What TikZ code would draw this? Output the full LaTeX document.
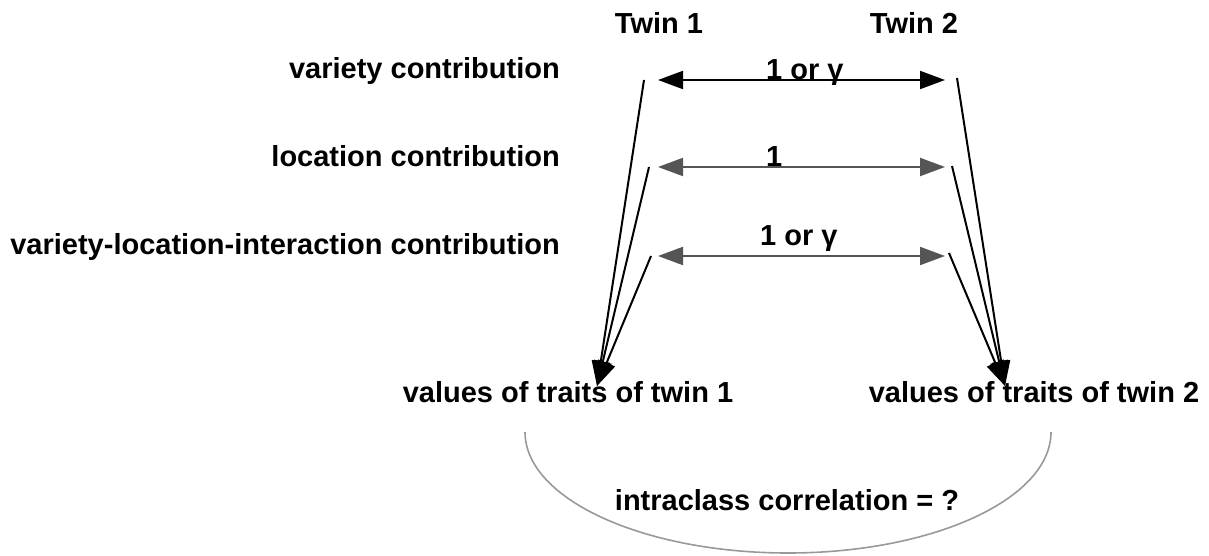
\documentclass[tikz,border=0pt]{standalone}
\usepackage{fontspec}
\setmainfont{Liberation Sans}
\usetikzlibrary{arrows.meta}
\definecolor{arrgray}{HTML}{555555}
\definecolor{arcgray}{HTML}{999999}
\begin{document}
\begin{tikzpicture}[x=1pt,y=-1pt,
  lbl/.style={inner sep=0pt,font=\fontsize{29}{33}\selectfont\bfseries},
  tip/.style={-{Triangle[length=25pt,width=18pt]}},
  dbl/.style={{Triangle[length=25pt,width=18pt]}-{Triangle[length=25pt,width=18pt]},line width=2pt},
  feed/.style={tip,line width=2pt,black},
]
\useasboundingbox (0,0) rectangle (1209,556);
% column headings
\node[lbl,anchor=base] (tw1) at (659,34) {Twin 1};
\node[lbl,anchor=base] (tw2) at (914,34) {Twin 2};
% row labels
\node[lbl,anchor=base east] (r1) at (560,79) {variety contribution};
\node[lbl,anchor=base east] (r2) at (560,167) {location contribution};
\node[lbl,anchor=base east] (r3) at (560,254) {variety-location-interaction contribution};
% line starts
\coordinate (l1) at (644,80);
\coordinate (l2) at (649,167);
\coordinate (l3) at (651,256);
\coordinate (m1) at (957,78);
\coordinate (m2) at (952,166);
\coordinate (m3) at (949,253);
% double arrows
\coordinate (a1l) at (658,80);  \coordinate (a1r) at (945,80);
\coordinate (a2l) at (658,167); \coordinate (a2r) at (945,167);
\coordinate (a3l) at (658,256); \coordinate (a3r) at (945,256);
\draw[dbl,black] (a1l) -- (a1r);
\draw[dbl,arrgray] (a2l) -- (a2r);
\draw[dbl,arrgray] (a3l) -- (a3r);
\node[lbl,anchor=base west] (c1) at (766,80) {1 or γ};
\node[lbl,anchor=base west] (c2) at (766,167) {1};
\node[lbl,anchor=base west] (c3) at (760,245) {1 or γ};
% values
\node[lbl,anchor=base] (v1) at (568,402) {values of traits of twin 1};
\node[lbl,anchor=base] (v2) at (1034,402) {values of traits of twin 2};
\coordinate (t1) at (597,386);
\coordinate (t2) at (1005,386);
\draw[feed] (l1) -- (t1);
\draw[feed] (l2) -- (t1);
\draw[feed] (l3) -- (t1);
\draw[feed] (m1) -- (t2);
\draw[feed] (m2) -- (t2);
\draw[feed] (m3) -- (t2);
% correlation arc
\coordinate (s1) at (525,432);
\coordinate (s2) at (1051,432);
\draw[arcgray,line width=1.6pt] (s1) arc[start angle=180,end angle=0,x radius=263,y radius=121];
\node[lbl,anchor=base] (ic) at (787,510) {intraclass correlation = ?};
\end{tikzpicture}
\end{document}
